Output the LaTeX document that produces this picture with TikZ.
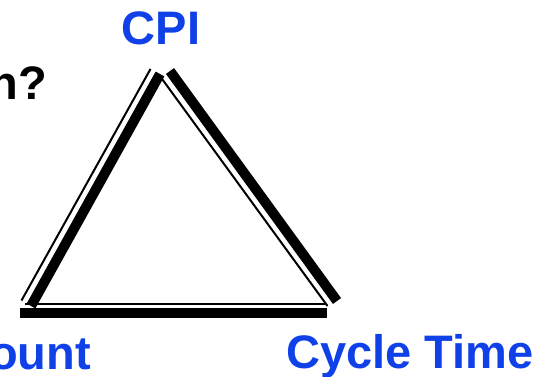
\documentclass[tikz,border=0pt]{standalone}
\usepackage{fontspec}
\setmainfont{Liberation Sans}
\definecolor{lblue}{RGB}{16,64,232}
\begin{document}
\begin{tikzpicture}[x=1pt,y=-1pt,
  thickside/.style={line width=10pt, line cap=butt},
  thinside/.style={line width=2pt, line cap=butt},
  lbl/.style={font=\fontsize{47}{50}\selectfont\bfseries, text=lblue, inner sep=0pt},
  blk/.style={font=\fontsize{47}{50}\selectfont\bfseries, text=black, inner sep=0pt},
]
\useasboundingbox (0,0) rectangle (559,377);
\clip (0,0) rectangle (559,377);
% triangle corners (thick)
\coordinate (lb) at (31,306);
\coordinate (lt) at (160,74);
\coordinate (rt) at (170,71);
\coordinate (rb) at (337,301);
\coordinate (bl) at (20,313);
\coordinate (br) at (327,313);
% thin companions
\coordinate (tlb) at (21.5,300.5);
\coordinate (tlt) at (150.5,69);
\coordinate (trt) at (161,77.5);
\coordinate (trb) at (327.5,306);
\coordinate (tbl) at (25,304);
\coordinate (tbr) at (325,304);
\draw[thickside] (lb) -- (lt);
\draw[thickside] (rt) -- (rb);
\draw[thickside] (bl) -- (br);
\draw[thinside] (tlb) -- (tlt);
\draw[thinside] (trt) -- (trb);
\draw[thinside] (tbl) -- (tbr);
% labels
\node[lbl, anchor=base] (cpi) at (161,45) {CPI};
\node[lbl, anchor=base west] (ct) at (286,368) {Cycle Time};
\node[lbl, anchor=base east] (ic) at (91,369) {ount};
\node[blk, anchor=base east] (q) at (47,100) {n?};
\end{tikzpicture}
\end{document}
